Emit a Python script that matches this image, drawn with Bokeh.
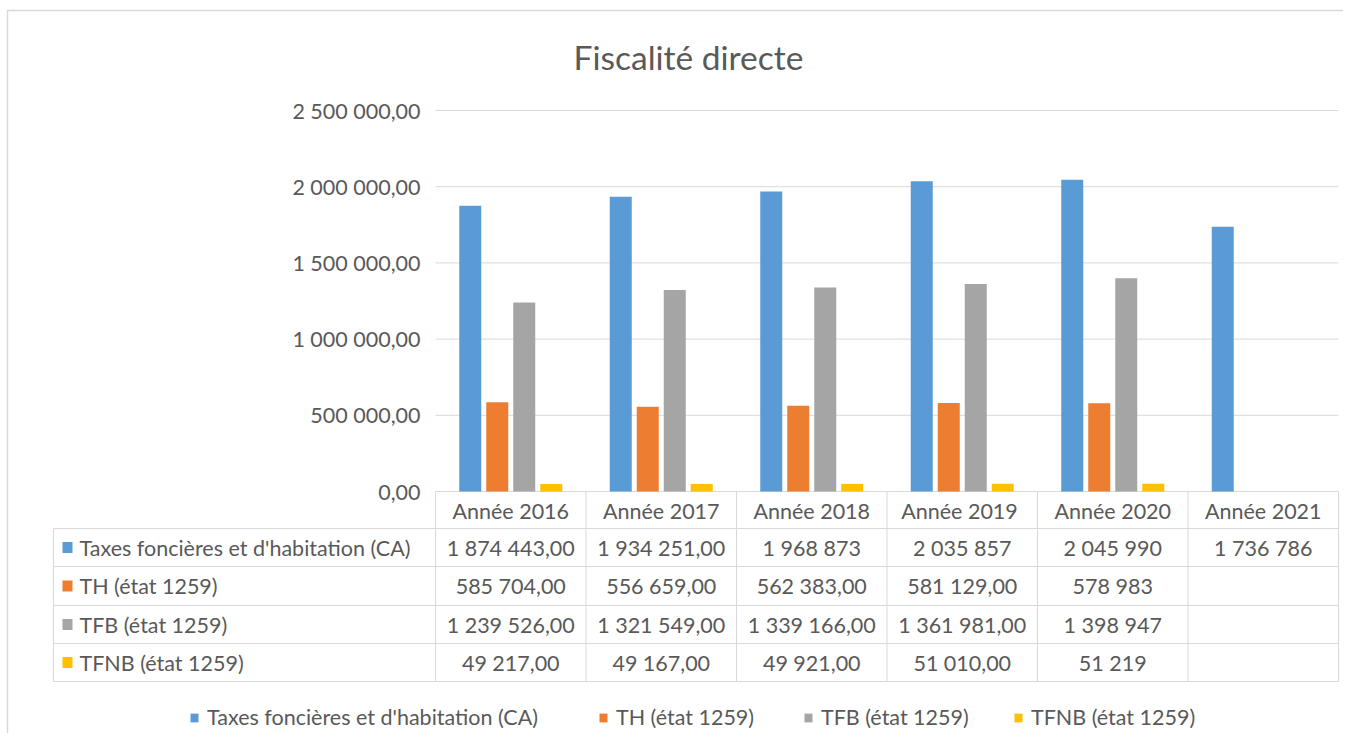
import math
from bokeh.plotting import figure
from bokeh.models import ColumnDataSource, Range1d, LinearAxis, FixedTicker, Legend, LegendItem
from bokeh.core.properties import value
from bokeh.embed import file_html
from bokeh.resources import INLINE

# ---------------- data ----------------
title_text = "Fiscalité directe"
years = ["Année 2016", "Année 2017", "Année 2018", "Année  2019", "Année 2020", "Année 2021"]
series_names = ["Taxes foncières et d'habitation (CA)", "TH (état 1259)",
                "TFB (état 1259)", "TFNB (état 1259)"]
taxes_ca = [1874443, 1934251, 1968873, 2035857, 2045990, 1736786]
th_1259 = [585704, 556659, 562383, 581129, 578983, None]
tfb_1259 = [1239526, 1321549, 1339166, 1361981, 1398947, None]
tfnb_1259 = [49217, 49167, 49921, 51010, 51219, None]
# whether the data table shows ",00" for each cell
taxes_ca_cents = [True, True, False, False, False, False]
th_1259_cents = [True, True, True, True, False, False]
tfb_1259_cents = [True, True, True, True, False, False]
tfnb_1259_cents = [True, True, True, True, False, False]
y_ticks = [0, 500000, 1000000, 1500000, 2000000, 2500000]

colors = ["#5B9BD5", "#ED7D31", "#A5A5A5", "#FFC000"]
series = [taxes_ca, th_1259, tfb_1259, tfnb_1259]
cents = [taxes_ca_cents, th_1259_cents, tfb_1259_cents, tfnb_1259_cents]


def fr(v, with_cents):
    if v is None:
        return ""
    s = f"{int(round(v)):,}".replace(",", " ")
    return s + (",00" if with_cents else "")


# ---------------- layout ----------------
W, H = 1343, 733
FONT = "Lato"
FS = "21.5px"
TXT = "#595959"
GRID = "#D9D9D9"
plot_left = 435.0
col_w = 150.5
zero_y = 491.0
top_y = 110.0
k = y_ticks[-1] / (zero_y - top_y)

p = figure(width=W, height=H, output_backend="svg", toolbar_location=None,
           x_axis_location=None, y_axis_location=None,
           x_range=Range1d(-plot_left / col_w, (W - plot_left) / col_w),
           y_range=Range1d(-(H - zero_y) * k, y_ticks[-1] + top_y * k),
           min_border=0, outline_line_color=None)
p.xgrid.visible = False
p.ygrid.visible = False
p.extra_x_ranges = {"px": Range1d(0, W)}
p.extra_y_ranges = {"px": Range1d(H, 0)}

# outer border
p.line(x=[7, 7, W], y=[H, 10, 10], x_range_name="px", y_range_name="px",
       line_color=GRID, line_width=1.5)

# title
p.text(x=[688], y=[56], text=[title_text], x_range_name="px", y_range_name="px",
       text_font=value(FONT), text_font_size="33.5px", text_color=TXT,
       text_align="center", text_baseline="middle")

# gridlines
ncat = len(years)
p.segment(x0=[0] * len(y_ticks), x1=[ncat] * len(y_ticks), y0=y_ticks, y1=y_ticks,
          line_color=GRID, line_width=1)

# y axis at the plot-area left edge
yaxis = LinearAxis(fixed_location=0, ticker=FixedTicker(ticks=y_ticks),
                   major_label_overrides={t: fr(t, True) for t in y_ticks})
yaxis.axis_line_color = None
yaxis.major_tick_line_color = None
yaxis.minor_tick_line_color = None
yaxis.major_label_standoff = 9
yaxis.major_label_text_font = FONT
yaxis.major_label_text_font_size = FS
yaxis.major_label_text_color = TXT
p.add_layout(yaxis, "left")

# bars
step = 27.0 / col_w
bw = 22.0 / col_w
renderers = []
for j, (vals, col) in enumerate(zip(series, colors)):
    xs = [i + 0.5 + (j - 1.5) * step for i in range(ncat)]
    tops = [float("nan") if v is None else v for v in vals]
    src = ColumnDataSource(dict(x=xs, top=tops))
    r = p.vbar(x="x", top="top", bottom=0, width=bw, source=src,
               fill_color=col, line_color=None)
    renderers.append(r)

# data table
row_lines = [528, 566, 605, 643, 681]
row_centers = [547, 585.5, 624, 662]
label_left = (53 - plot_left) / col_w
p.segment(x0=[label_left] * len(row_lines), x1=[ncat] * len(row_lines),
          y0=row_lines, y1=row_lines, y_range_name="px", line_color=GRID, line_width=1)
p.segment(x0=list(range(ncat + 1)), x1=list(range(ncat + 1)),
          y0=[zero_y] * (ncat + 1), y1=[row_lines[-1]] * (ncat + 1),
          y_range_name="px", line_color=GRID, line_width=1)
p.segment(x0=[label_left], x1=[label_left], y0=[row_lines[0]], y1=[row_lines[-1]],
          y_range_name="px", line_color=GRID, line_width=1)

# header
p.text(x=[i + 0.5 for i in range(ncat)], y=[510] * ncat, text=years,
       y_range_name="px", text_font=value(FONT), text_font_size=FS,
       text_color=TXT, text_align="center", text_baseline="middle")

for j in range(len(series)):
    yc = row_centers[j]
    p.rect(x=[67], y=[yc], width=10, height=11, fill_color=colors[j],
           line_color=None, x_range_name="px", y_range_name="px")
    p.text(x=[79], y=[yc], text=[series_names[j]], x_range_name="px", y_range_name="px",
           text_font=value(FONT), text_font_size=FS, text_color=TXT,
           text_align="left", text_baseline="middle")
    labels = [fr(v, c) for v, c in zip(series[j], cents[j])]
    p.text(x=[i + 0.5 for i in range(ncat)], y=[yc] * ncat, text=labels,
           y_range_name="px", text_font=value(FONT), text_font_size=FS,
           text_color=TXT, text_align="center", text_baseline="middle")

# legend: one entry per box so each sits where the reference puts it
legend_x = [189, 598, 803, 1013]
for n, r, lx in zip(series_names, renderers, legend_x):
    lg = Legend(items=[LegendItem(label=n, renderers=[r])],
                orientation="horizontal", location=(lx, 3),
                glyph_width=10, glyph_height=11, label_standoff=8, spacing=0,
                padding=0, margin=0, border_line_color=None, background_fill_alpha=0,
                label_text_font=FONT, label_text_font_size=FS, label_text_color=TXT,
                label_height=20)
    p.add_layout(lg)

open("out.html", "w").write(file_html(p, INLINE))
